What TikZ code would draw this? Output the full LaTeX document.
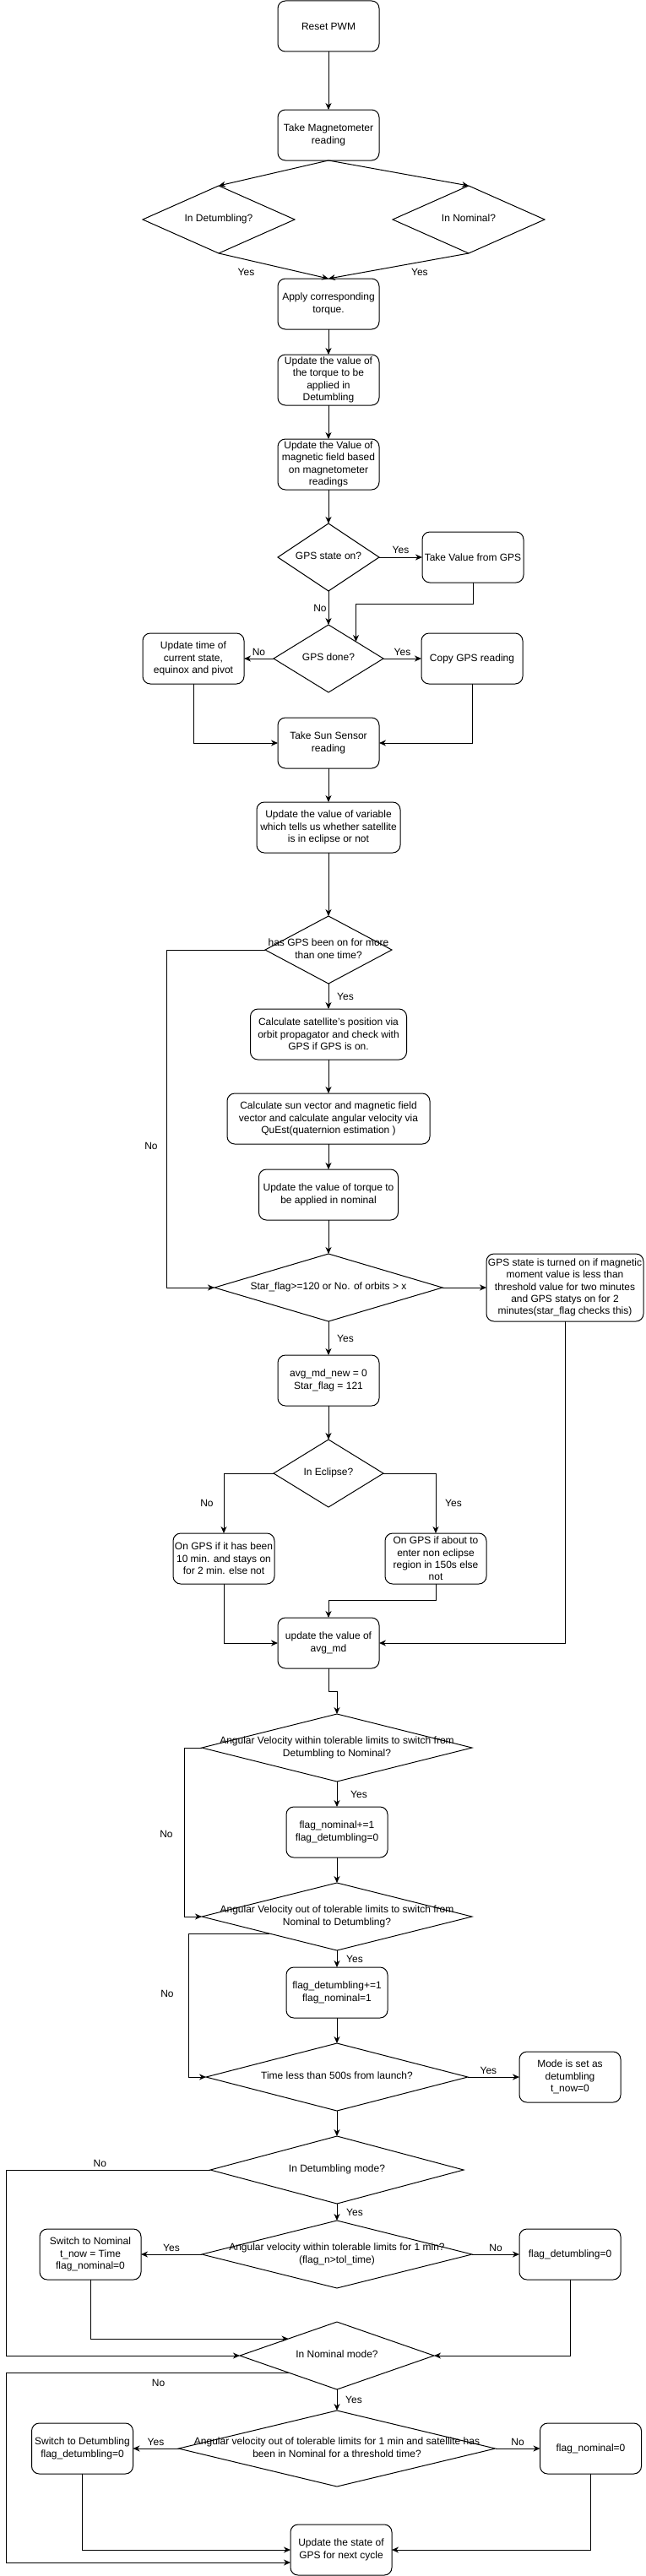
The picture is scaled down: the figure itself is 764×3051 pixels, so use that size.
\documentclass[tikz,border=0pt]{standalone}
\usepackage{fontspec}
\setmainfont{Liberation Sans}
\usetikzlibrary{positioning,shapes.geometric,arrows.meta,calc}
\newcommand{\dlines}[1]{\makebox[0pt]{\begin{tabular}{@{}c@{}}#1\end{tabular}}}

\begin{document}
\begin{tikzpicture}[x=1pt, y=-1pt,
    block/.style={rectangle, rounded corners=9pt, draw=black, line width=1pt, minimum width=120pt, minimum height=60pt, inner sep=1pt, outer sep=0pt, align=center, font=\fontsize{12}{14.4}\selectfont},
    decision/.style={diamond, draw=black, line width=1pt, inner sep=0pt, outer sep=0pt, minimum height=80pt, font=\fontsize{12}{14.4}\selectfont},
    answer/.style={inner sep=1pt, font=\fontsize{12}{14.4}\selectfont}
  ]
  \useasboundingbox (0,0) rectangle (764,3051);
  \fill[white] (0,0) rectangle (764,3051);
  % top part
  \node[block] (reset) at (389,31) {Reset PWM};
  \node[block] (mag) [below=69pt of reset] {Take Magnetometer\\reading};
  \node[decision, minimum width=180pt] (detq) [below=30pt of mag, xshift=-130pt] {\dlines{In Detumbling?}};
  \node[decision, minimum width=180pt] (nomq) [below=30pt of mag, xshift=166pt] {\dlines{In Nominal?}};
  \node[block] (apply) [below=140pt of mag] {Apply corresponding\\torque.};
  \node[block] (upddet) [below=30pt of apply] {Update the value of\\the torque to be\\applied in\\Detumbling};
  \node[block] (updmag) [below=40pt of upddet] {Update the Value of\\magnetic field based\\on magnetometer\\readings};
  \node[decision, minimum width=120pt] (gpson) [below=40pt of updmag] {\dlines{GPS state on?}};
  \node[block] (takegps) [right=51pt of gpson] {Take Value from GPS};
  \node[decision, minimum width=130pt] (gpsdone) [below=40pt of gpson] {\dlines{GPS done?}};
  \node[block] (updtime) [left=35pt of gpsdone] {Update time of\\current state,\\equinox and pivot};
  \node[block] (copygps) [right=45pt of gpsdone] {Copy GPS reading};
  \node[block] (sun) [below=30pt of gpsdone] {Take Sun Sensor\\reading};
  \node[block, minimum width=170pt] (eclvar) [below=40pt of sun] {Update the value of variable\\which tells us whether satellite\\is in eclipse or not};
  % orbit and attitude
  \node[decision, minimum width=150pt] (gpsmore) [below=75pt of eclvar] {\dlines{has GPS been on for more\\than one time?}};
  \node[block, minimum width=185pt] (calcpos) [below=30pt of gpsmore] {Calculate satellite's position via\\orbit propagator and check with\\GPS if GPS is on.};
  \node[block, minimum width=240pt] (sunvec) [below=40pt of calcpos] {Calculate sun vector and magnetic field\\vector and calculate angular velocity via\\QuEst(quaternion estimation )};
  \node[block, minimum width=165pt] (torqnom) [below=30pt of sunvec] {Update the value of torque to\\be applied in nominal};
  \node[decision, minimum width=270pt] (star) [below=40pt of torqnom] {\dlines{Star\_flag>=120 or No. of orbits > x}};
  \node[block, minimum width=186pt, minimum height=80pt] (gpsstate) [right=52pt of star] {GPS state is turned on if magnetic\\moment value is less than\\threshold value for two minutes\\and GPS statys on for 2\\minutes(star\_flag checks this)};
  \node[block] (avgnew) [below=40pt of star] {avg\_md\_new = 0\\Star\_flag = 121};
  \node[decision, minimum width=130pt] (eclipse) [below=40pt of avgnew] {\dlines{In Eclipse?}};
  \node[block] (ongps10) [below=31pt of eclipse, xshift=-124pt] {On GPS if it has been\\10 min. and stays on\\for 2 min. else not};
  \node[block] (onabout) [below=31pt of eclipse, xshift=127pt] {On GPS if about to\\enter non eclipse\\region in 150s else\\not};
  \node[block] (avgmd) [below=131pt of eclipse] {update the value of\\avg\_md};
  % mode switching
  \node[decision, minimum width=320pt] (angdn) [below=54pt of avgmd, xshift=10pt] {\dlines{Angular Velocity within tolerable limits to switch from\\Detumbling to Nominal?}};
  \node[block] (flagnom) [below=30pt of angdn] {flag\_nominal+=1\\flag\_detumbling=0};
  \node[decision, minimum width=320pt] (angnd) [below=30pt of flagnom] {\dlines{Angular Velocity out of tolerable limits to switch from\\Nominal to Detumbling?}};
  \node[block] (flagdet) [below=20pt of angnd] {flag\_detumbling+=1\\flag\_nominal=1};
  \node[decision, minimum width=310pt] (timeq) [below=30pt of flagdet] {\dlines{Time less than 500s from launch?}};
  \node[block] (modeset) [right=61pt of timeq] {Mode is set as\\detumbling\\t\_now=0};
  \node[decision, minimum width=300pt] (detmode) [below=30pt of timeq] {\dlines{In Detumbling mode?}};
  \node[decision, minimum width=320pt] (angmin) [below=20pt of detmode] {\dlines{Angular velocity within tolerable limits for 1 min?\\(flag\_n>tol\_time)}};
  \node[block] (swnom) [left=72pt of angmin] {Switch to Nominal\\t\_now = Time\\flag\_nominal=0};
  \node[block] (flagdet0) [right=56pt of angmin] {flag\_detumbling=0};
  \node[decision, minimum width=230pt] (nommode) [below=40pt of angmin] {\dlines{In Nominal mode?}};
  \node[decision, minimum width=375pt, minimum height=90pt] (angout) [below=25pt of nommode] {\dlines{Angular velocity out of tolerable limits for 1 min and satellite has\\been in Nominal for a threshold time?}};
  \node[block] (swdet) [left=54pt of angout] {Switch to Detumbling\\flag\_detumbling=0};
  \node[block] (flagnom0) [right=53pt of angout] {flag\_nominal=0};
  \node[block] (gpsnext) [below=45pt of angout, xshift=5pt] {Update the state of\\GPS for next cycle};
  \begin{scope}[line width=1pt, -{Stealth[length=8pt, width=7pt, inset=2.5pt]}]
  \draw (reset.south) -- (mag.north);
  \draw (mag.south) -- (detq.north);
  \draw (mag.south) -- (nomq.north);
  \draw (detq.south) -- (apply.north) node[answer, pos=0.25, yshift=-15pt] {Yes};
  \draw (nomq.south) -- (apply.north) node[answer, pos=0.35, yshift=-12pt] {Yes};
  \draw (apply.south) -- (upddet.north);
  \draw (upddet.south) -- (updmag.north);
  \draw (updmag.south) -- (gpson.north);
  \draw (gpson.east) -- (takegps.west) node[answer, midway, yshift=9pt] {Yes};
  \draw (takegps.south) -- ++(0,25) -| ($(gpsdone.north)!0.5!(gpsdone.east)$);
  \draw (gpson.south) -- (gpsdone.north) node[answer, midway, xshift=-10pt] {No};
  \draw (gpsdone.west) -- (updtime.east) node[answer, midway, yshift=8pt] {No};
  \draw (gpsdone.east) -- (copygps.west) node[answer, midway, yshift=8pt] {Yes};
  \draw (updtime.south) |- (sun.west);
  \draw (copygps.south) |- (sun.east);
  \draw (sun.south) -- (eclvar.north);
  \draw (eclvar.south) -- (gpsmore.north);
  \draw (gpsmore.west) -- ++(-117,0) |- node[answer, pos=0.29, xshift=-18pt] {No} (star.west);
  \draw (gpsmore.south) -- (calcpos.north) node[answer, midway, xshift=20pt] {Yes};
  \draw (calcpos.south) -- (sunvec.north);
  \draw (sunvec.south) -- (torqnom.north);
  \draw (torqnom.south) -- (star.north);
  \draw (star.east) -- (gpsstate.west);
  \draw (star.south) -- (avgnew.north) node[answer, midway, xshift=20pt] {Yes};
  \draw (avgnew.south) -- (eclipse.north);
  \draw (eclipse.west) -| (ongps10.north) node[answer, pos=0.75, xshift=-20pt] {No};
  \draw (eclipse.east) -| (onabout.north) node[answer, pos=0.75, xshift=21pt] {Yes};
  \draw (gpsstate.south) |- (avgmd.east);
  \draw (ongps10.south) |- (avgmd.west);
  \draw (onabout.south) -- ++(0,19) -| (avgmd.north);
  \draw (avgmd.south) -- ++(0,27) -| (angdn.north);
  \draw (angdn.west) -- ++(-21,0) |- node[answer, pos=0.255, xshift=-21pt] {No} (angnd.west);
  \draw (angdn.south) -- (flagnom.north) node[answer, midway, xshift=26pt] {Yes};
  \draw (flagnom.south) -- (angnd.north);
  \draw ($(angnd.west)!0.5!(angnd.south)$) -- ++(-96,0) |- node[answer, pos=0.21, xshift=-25pt] {No} (timeq.west);
  \draw (angnd.south) -- (flagdet.north) node[answer, midway, xshift=21pt] {Yes};
  \draw (flagdet.south) -- (timeq.north);
  \draw (timeq.east) -- (modeset.west) node[answer, pos=0.4, yshift=8pt] {Yes};
  \draw (timeq.south) -- (detmode.north);
  \draw (detmode.west) -- node[answer, pos=0.54, yshift=8pt] {No} ++(-242,0) |- (nommode.west);
  \draw (detmode.south) -- (angmin.north) node[answer, midway, xshift=21pt] {Yes};
  \draw (angmin.west) -- (swnom.east) node[answer, midway, yshift=8pt] {Yes};
  \draw (angmin.east) -- (flagdet0.west) node[answer, midway, yshift=8pt] {No};
  \draw (swnom.south) |- ($(nommode.west)!0.5!(nommode.north)$);
  \draw (flagdet0.south) |- (nommode.east);
  \draw ($(nommode.west)!0.5!(nommode.south)$) -- node[answer, pos=0.46, yshift=-12pt] {No} ++(-334.5,0) |- ($(gpsnext.west)+(0,15)$);
  \draw (nommode.south) -- (angout.north) node[answer, midway, xshift=20pt] {Yes};
  \draw (angout.west) -- (swdet.east) node[answer, midway, yshift=8pt] {Yes};
  \draw (angout.east) -- (flagnom0.west) node[answer, midway, yshift=8pt] {No};
  \draw (swdet.south) |- (gpsnext.west);
  \draw (flagnom0.south) |- (gpsnext.east);
  \end{scope}
\end{tikzpicture}
\end{document}
